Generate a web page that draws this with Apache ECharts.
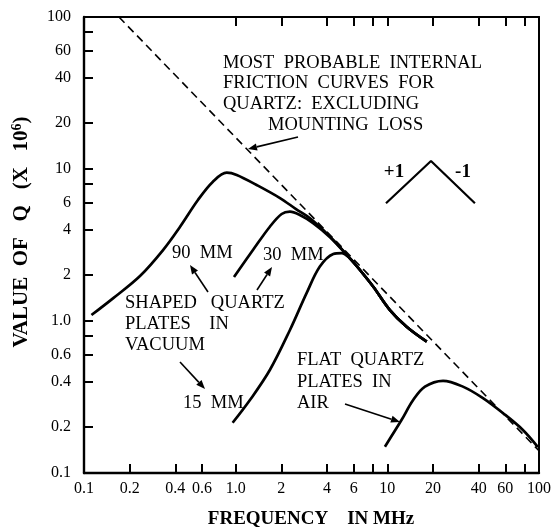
<!DOCTYPE html>
<html>
<head>
<meta charset="utf-8">
<script src="https://cdn.jsdelivr.net/npm/echarts@6/dist/echarts.min.js"></script>
<style>
  html, body { margin: 0; padding: 0; background: #fff; }
  #chart { width: 555px; height: 527px; }
</style>
</head>
<body>
<div id="chart"></div>
<script>
// Axis ticks and labels (frequency in MHz, Q in units of 10^6)
const freqTicks = [0.1, 0.2, 0.4, 0.6, 1, 2, 4, 6, 8, 10, 20, 40, 60, 80, 100];
const freqLabels = [0.1, 0.2, 0.4, 0.6, 1, 2, 4, 6, 10, 20, 40, 60, 100];
const freqTopTicks = [1, 2, 4, 6, 8, 10, 20, 40, 60, 80];
const qTicks = [0.1, 0.2, 0.4, 0.6, 0.8, 1, 2, 4, 6, 8, 10, 20, 40, 60, 80, 100];
const qLabels = [0.1, 0.2, 0.4, 0.6, 1, 2, 4, 6, 10, 20, 40, 60, 100];

// Most probable internal friction limit (dashed, straight on log-log axes)
const internalFriction = [[0.17, 100], [100, 0.14]];

// Shaped quartz plates in vacuum
const shaped90mm = [[0.112, 1.095], [0.156, 1.415], [0.234, 1.977], [0.332, 2.93], [0.43, 4.17], [0.564, 6.25],
  [0.708, 8.25], [0.873, 9.46], [1.016, 9.14], [1.375, 7.85], [1.96, 6.44], [2.5, 5.45], [3.09, 4.74],
  [4.19, 3.59], [5.67, 2.585], [6.6, 2.165], [8.08, 1.68], [10.4, 1.18], [13.4, 0.917], [18.2, 0.731]];
const shaped30mm = [[0.975, 1.95], [1.3, 2.93], [1.68, 4.17], [2.01, 5.06], [2.28, 5.24], [2.65, 4.98],
  [3.24, 4.41], [4.19, 3.56], [5.67, 2.58], [6.6, 2.165], [8.08, 1.68], [10.4, 1.18], [13.4, 0.917], [18.2, 0.731]];
const shaped15mm = [[0.955, 0.214], [1.242, 0.302], [1.68, 0.476], [2.28, 0.873], [2.94, 1.53], [3.59, 2.28],
  [4.4, 2.76], [5.0, 2.8], [5.67, 2.58], [6.6, 2.165], [8.08, 1.68], [10.4, 1.18], [13.4, 0.917], [18.2, 0.731]];

// Flat quartz plates in air
const flatAir = [[9.64, 0.149], [12.4, 0.223], [14.8, 0.302], [17.7, 0.37], [23.3, 0.404], [31.5, 0.37],
  [42.7, 0.311], [57.8, 0.248], [78.3, 0.192], [98.4, 0.148]];

// Slope key: +1 and -1 on log-log axes
const slopeKey = [[9.8, 5.95], [19.4, 11.3], [37.8, 5.95]];

const SERIF = '"Liberation Serif", "Times New Roman", serif';
const INK = '#000';

const fmt = v => {
  const n = Number(Number(v).toPrecision(3));
  return n === 1 ? '1.0' : String(n);
};

function curve(name, data, extra) {
  return Object.assign({
    name, type: 'line', data, showSymbol: false, symbol: 'none', smooth: 0.35,
    lineStyle: { color: INK, width: 2.7 }, z: 3, silent: true
  }, extra || {});
}

// Arrow with a filled head at (x2, y2)
function arrow(x1, y1, x2, y2) {
  const a = Math.atan2(y2 - y1, x2 - x1), L = 9, W = 3.6;
  const bx = x2 - L * Math.cos(a), by = y2 - L * Math.sin(a);
  return [
    { type: 'line', shape: { x1, y1, x2: bx, y2: by }, style: { stroke: INK, lineWidth: 1.6 }, z: 10 },
    { type: 'polygon', shape: { points: [[x2, y2], [bx - W * Math.sin(a), by + W * Math.cos(a)], [bx + W * Math.sin(a), by - W * Math.cos(a)]] },
      style: { fill: INK }, z: 10 }
  ];
}

function label(text, x, y, opts) {
  return {
    type: 'text', x, y, z: 10,
    style: Object.assign({ text, fill: INK, font: '18.5px ' + SERIF, textAlign: 'left', textVerticalAlign: 'middle' }, opts || {})
  };
}

const chart = echarts.init(document.getElementById('chart'), null, { renderer: 'canvas' });

const axisLineStyle = { color: INK, width: 2.4 };

chart.setOption({
  animation: false,
  backgroundColor: '#fff',
  grid: { left: 84, right: 16, top: 17, bottom: 54 },
  xAxis: [
    {
      type: 'log', logBase: 10, min: 0.1, max: 100, position: 'bottom',
      axisLine: { show: true, onZero: false, lineStyle: axisLineStyle },
      axisTick: { show: true, inside: true, length: 9, customValues: freqTicks, lineStyle: { color: INK, width: 2 } },
      axisLabel: { customValues: freqLabels, formatter: fmt, color: INK, fontFamily: SERIF, fontSize: 16, margin: 8 },
      splitLine: { show: false }, minorTick: { show: false }
    },
    {
      type: 'log', logBase: 10, min: 0.1, max: 100, position: 'top',
      axisLine: { show: true, onZero: false, lineStyle: { color: INK, width: 2 } },
      axisTick: { show: true, inside: true, length: 9, customValues: freqTopTicks, lineStyle: { color: INK, width: 2 } },
      axisLabel: { show: false }, splitLine: { show: false }
    }
  ],
  yAxis: [
    {
      type: 'log', logBase: 10, min: 0.1, max: 100, position: 'left',
      axisLine: { show: true, onZero: false, lineStyle: axisLineStyle },
      axisTick: { show: true, inside: true, length: 9, customValues: qTicks, lineStyle: { color: INK, width: 2 } },
      axisLabel: { customValues: qLabels, formatter: fmt, color: INK, fontFamily: SERIF, fontSize: 16, margin: 13 },
      splitLine: { show: false }, minorTick: { show: false }
    },
    {
      type: 'log', logBase: 10, min: 0.1, max: 100, position: 'right',
      axisLine: { show: true, onZero: false, lineStyle: { color: INK, width: 2 } },
      axisTick: { show: false }, axisLabel: { show: false }, splitLine: { show: false }
    }
  ],
  series: [
    curve('Internal friction limit', internalFriction, {
      smooth: false, z: 2, lineStyle: { color: INK, width: 1.6, type: [8, 5] }
    }),
    curve('90 MM', shaped90mm),
    curve('30 MM', shaped30mm),
    curve('15 MM', shaped15mm),
    curve('Flat quartz in air', flatAir),
    curve('Slope key', slopeKey, { smooth: false, lineStyle: { color: INK, width: 2.2 } })
  ],
  graphic: [
    // Axis titles
    {
      type: 'text', x: 22, y: 232, rotation: Math.PI / 2, z: 10,
      style: {
        text: '{t|VALUE  OF   Q   (X   10}{s|6}{t|)}', textAlign: 'center', textVerticalAlign: 'middle', fill: INK,
        rich: {
          t: { font: 'bold 21px ' + SERIF, fill: INK },
          s: { font: 'bold 14px ' + SERIF, fill: INK, verticalAlign: 'top', padding: [0, 0, 9, 0] }
        }
      }
    },
    {
      type: 'text', x: 311, y: 519, z: 10,
      style: { text: 'FREQUENCY    IN MHz', font: 'bold 19px ' + SERIF, fill: INK, textAlign: 'center', textVerticalAlign: 'middle' }
    },
    // Annotations
    label('MOST  PROBABLE  INTERNAL', 223, 63),
    label('FRICTION  CURVES  FOR', 223, 83),
    label('QUARTZ:  EXCLUDING', 223, 104),
    label('MOUNTING  LOSS', 268, 125),
    label('+1', 394, 172, { font: 'bold 19px ' + SERIF, textAlign: 'center' }),
    label('-1', 463, 172, { font: 'bold 19px ' + SERIF, textAlign: 'center' }),
    label('90  MM', 172, 253),
    label('30  MM', 263, 255),
    label('SHAPED   QUARTZ', 125, 303),
    label('PLATES    IN', 125, 324),
    label('VACUUM', 125, 345),
    label('15  MM', 183, 403),
    label('FLAT  QUARTZ', 297, 360),
    label('PLATES  IN', 297, 382),
    label('AIR', 297, 403),
    ...arrow(298, 137, 248, 149),
    ...arrow(208, 292, 190, 265),
    ...arrow(257, 290, 272, 267),
    ...arrow(180, 362, 205, 389),
    ...arrow(345, 404, 400, 422)
  ]
});
</script>
</body>
</html>
